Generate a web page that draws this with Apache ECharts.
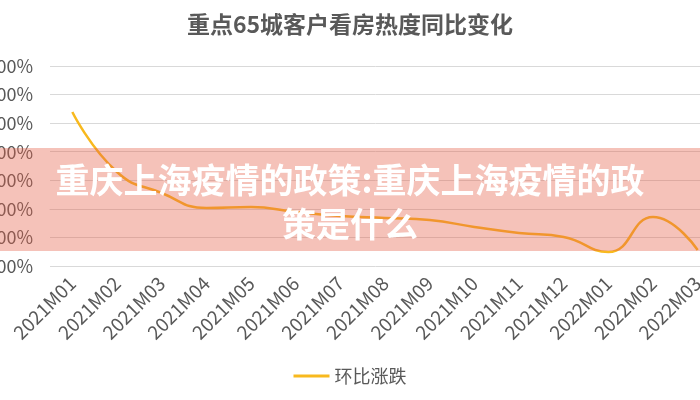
<!DOCTYPE html>
<html><head><meta charset="utf-8">
<script src="https://cdn.jsdelivr.net/npm/echarts@6/dist/echarts.min.js"></script>
<style>html,body{margin:0;padding:0;background:#fff}#c{width:700px;height:400px}</style>
</head><body><div id="c"></div>
<script>
const titleText = '重点65城客户看房热度同比变化';
const seriesName = '环比涨跌';
const categories = ['2021M01','2021M02','2021M03','2021M04','2021M05','2021M06','2021M07','2021M08','2021M09','2021M10','2021M11','2021M12','2022M01','2022M02','2022M03'];
const values = [67.8, 25.8, 11.1, 0.6, 1.3, -2.2, -5.0, -6.4, -7.8, -12.7, -16.9, -19.7, -30.2, -5.7, -28.8];
const yMin = -40, yMax = 100, yStep = 20;
const bannerText = '重庆上海疫情的政策:重庆上海疫情的政\n策是什么';
const FONT = '"Noto Sans CJK SC", "Noto Sans", sans-serif';

const chart = echarts.init(document.getElementById('c'), null, {renderer:'canvas'});
chart.setOption({
  animation:false,
  backgroundColor:'#fff',
  textStyle:{fontFamily:FONT},
  title:{text:titleText,left:'center',top:8,textStyle:{fontSize:23,fontWeight:'bold',color:'#595959',fontFamily:FONT}},
  legend:{bottom:10,left:'center',icon:'rect',itemWidth:36,itemHeight:3,itemGap:5,
    textStyle:{fontSize:18,color:'#595959',fontFamily:FONT},data:[seriesName]},
  grid:{left:50,top:66,width:670,height:200,containLabel:false,outerBoundsMode:'none'},
  xAxis:{type:'category',data:categories,boundaryGap:true,
    axisLine:{lineStyle:{color:'#d9d9d9'}},axisTick:{show:false},
    axisLabel:{rotate:45,interval:0,fontSize:19,color:'#595959',margin:14,fontFamily:FONT}},
  yAxis:{type:'value',min:yMin,max:yMax,interval:yStep,
    axisLine:{show:false},axisTick:{show:false},
    splitLine:{lineStyle:{color:'#d9d9d9',width:1}},
    axisLabel:{fontSize:18,color:'#595959',margin:17,fontFamily:FONT,formatter:v=>v.toFixed(2)+'%'}},
  series:[{name:seriesName,type:'line',data:values,smooth:0.5,showSymbol:false,
    lineStyle:{color:'#F8B91E',width:2.5},itemStyle:{color:'#F8B91E'}}],
  graphic:[
    {type:'rect',left:0,top:148,z:100,shape:{width:700,height:103},style:{fill:'rgba(230,95,70,0.38)'}},
    {type:'text',left:'center',top:158,z:101,style:{text:bannerText,fill:'#fff',font:'bold 34px '+FONT,textAlign:'center',lineHeight:44}}
  ]
});
</script></body></html>
